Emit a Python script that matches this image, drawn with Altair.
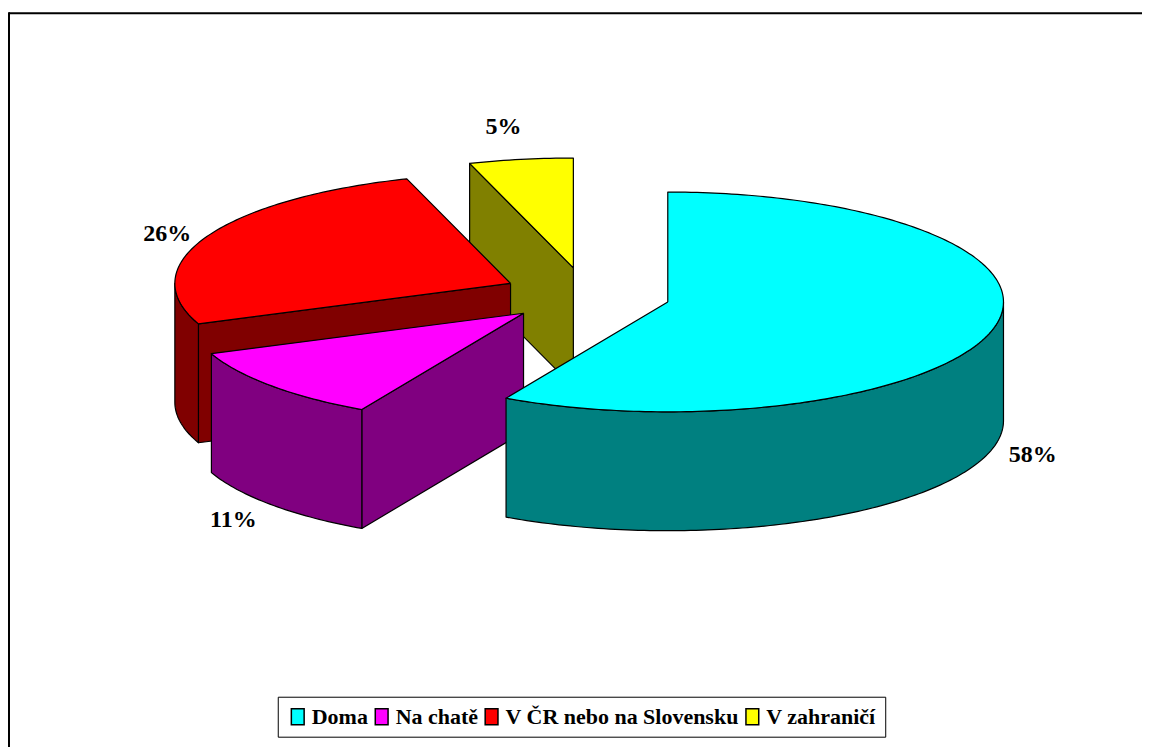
import math
import numpy as np
import pandas as pd
import altair as alt

# ---- data ----
categories = ["Doma", "Na chatě", "V ČR nebo na Slovensku", "V zahraničí"]
values = [58, 11, 26, 5]
value_labels = ["58%", "11%", "26%", "5%"]
top_colors = ["#00FFFF", "#FF00FF", "#FF0000", "#FFFF00"]
side_colors = ["#008080", "#800080", "#800000", "#808000"]

# ---- layout (view pixel units) ----
W, H = 1134, 722
CX, CY = 578.0, 283.0
RX, RY = 336.0, 110.0
DEPTH = 119.0
EXPLODE = 0.25
LABEL_GAP = 40.0
FONT = "Liberation Serif"


def rim(cx, cy, deg, drop=0.0):
    t = math.radians(deg)
    return (cx + RX * math.sin(t), cy - RY * math.cos(t) + drop)


total = float(sum(values))
bounds = np.cumsum([0] + values) / total * 360.0

slices = []
for i, cat in enumerate(categories):
    a0, a1 = float(bounds[i]), float(bounds[i + 1])
    mid = (a0 + a1) / 2.0
    t = math.radians(mid)
    ax = CX + EXPLODE * RX * math.sin(t)
    ay = CY - EXPLODE * RY * math.cos(t)
    angs = np.linspace(a0, a1, max(3, int(math.ceil(a1 - a0)) + 1))
    front = max(-math.cos(math.radians(a)) for a in angs)
    slices.append(dict(i=i, cat=cat, a0=a0, a1=a1, mid=mid, ax=ax, ay=ay,
                       angs=angs, front=front))

face_counter = [0]


def add_face(rows, pts, cat, color):
    fid = "f%03d" % face_counter[0]
    face_counter[0] += 1
    for k, (x, y) in enumerate(pts):
        rows.append({"face": fid, "k": k, "x": x, "y": y, "cat": cat, "color": color})


side_rows, top_rows, label_rows = [], [], []
order = sorted(slices, key=lambda s: s["front"])
for s in order:
    col = side_colors[s["i"]]
    ax, ay = s["ax"], s["ay"]
    if math.sin(math.radians(s["a0"])) < -1e-6:
        add_face(side_rows, [(ax, ay), rim(ax, ay, s["a0"]), rim(ax, ay, s["a0"], DEPTH),
                             (ax, ay + DEPTH), (ax, ay)], s["cat"], col)
    if math.sin(math.radians(s["a1"])) > 1e-6:
        add_face(side_rows, [(ax, ay), rim(ax, ay, s["a1"]), rim(ax, ay, s["a1"], DEPTH),
                             (ax, ay + DEPTH), (ax, ay)], s["cat"], col)
    lo, hi = max(s["a0"], 90.0), min(s["a1"], 270.0)
    if hi > lo:
        arc = np.linspace(lo, hi, int(math.ceil(hi - lo)) + 2)
        pts = [rim(ax, ay, a) for a in arc] + [rim(ax, ay, a, DEPTH) for a in arc[::-1]]
        pts.append(pts[0])
        add_face(side_rows, pts, s["cat"], col)

for s in order:
    ax, ay = s["ax"], s["ay"]
    pts = [(ax, ay)] + [rim(ax, ay, a) for a in s["angs"]] + [(ax, ay)]
    add_face(top_rows, pts, s["cat"], top_colors[s["i"]])

for s in slices:
    t = math.radians(s["mid"])
    dx, dy = RX * math.sin(t), -RY * math.cos(t)
    n = math.hypot(dx, dy)
    drop = DEPTH if -math.cos(t) > 0 else 0.0
    label_rows.append({
        "x": s["ax"] + dx + LABEL_GAP * dx / n,
        "y": s["ay"] + dy + drop + LABEL_GAP * dy / n + 4,
        "label": value_labels[s["i"]],
    })

side_df = pd.DataFrame(side_rows)
top_df = pd.DataFrame(top_rows)
label_df = pd.DataFrame(label_rows)

x_scale = alt.Scale(domain=[0, W], nice=False, zero=False)
y_scale = alt.Scale(domain=[0, H], nice=False, zero=False, reverse=True)
X = alt.X("x:Q", scale=x_scale, axis=None)
Y = alt.Y("y:Q", scale=y_scale, axis=None)

sides = alt.Chart(side_df).mark_line(stroke="black", strokeWidth=1.2, strokeJoin="round").encode(
    x=X, y=Y,
    detail="face:N",
    order=alt.Order("k:Q"),
    fill=alt.Fill("color:N", scale=None),
)

tops = alt.Chart(top_df).mark_line(stroke="black", strokeWidth=1.2, strokeJoin="round").encode(
    x=X, y=Y,
    detail="face:N",
    order=alt.Order("k:Q"),
    fill=alt.Fill(
        "cat:N",
        scale=alt.Scale(domain=categories, range=top_colors),
        legend=alt.Legend(
            title=None,
            orient="none",
            legendX=269,
            legendY=685,
            direction="horizontal",
            symbolType="M-0.8,-1H0.8V1H-0.8Z",
            symbolSize=256,
            symbolStrokeColor="black",
            symbolStrokeWidth=1.5,
            symbolOpacity=1,
            labelFont=FONT,
            labelFontWeight="bold",
            labelFontSize=22,
            labelColor="black",
            labelLimit=500,
            labelOffset=3,
            columnPadding=2,
            padding=9,
            strokeColor="black",
            fillColor="white",
        ),
    ),
)

labels = alt.Chart(label_df).mark_text(
    font=FONT, fontWeight="bold", fontSize=24, align="center", baseline="middle", color="black"
).encode(x=X, y=Y, text="label:N")

frame = pd.DataFrame({"k": [0]})
border_top = alt.Chart(frame).mark_rule(color="black", strokeWidth=2).encode(
    x=alt.value(0), x2=alt.value(W), y=alt.value(1)
)
border_left = alt.Chart(frame).mark_rule(color="black", strokeWidth=2).encode(
    x=alt.value(0), y=alt.value(0), y2=alt.value(H + 40)
)

chart = (
    alt.layer(sides, tops, labels, border_top, border_left)
    .resolve_scale(fill="independent")
    .properties(width=W, height=H, padding={"left": 0, "top": 3, "right": 0, "bottom": 0},
                background="white")
    .configure_view(stroke=None)
)

chart.save("out.html", embed_options={"renderer": "svg", "actions": False})
